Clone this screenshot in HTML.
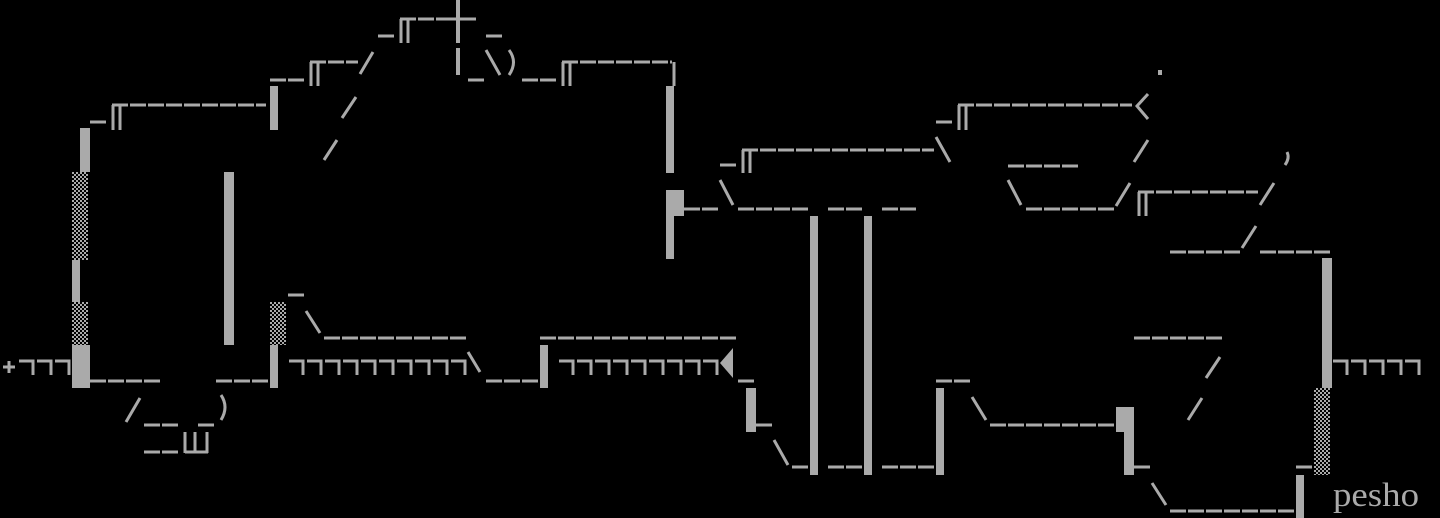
<!DOCTYPE html>
<html><head><meta charset="utf-8"><style>
html,body{margin:0;padding:0;background:#000;width:1440px;height:518px;overflow:hidden}
svg{display:block}
.t{font-family:"Liberation Serif",serif;font-size:34px;fill:#aaa}
</style></head><body>
<svg width="1440" height="518" viewBox="0 0 1440 518">
<defs>
<pattern id="dot" width="4" height="4" patternUnits="userSpaceOnUse">
<rect width="4" height="4" fill="#000"/><rect width="2" height="2" fill="#aaa"/><rect x="2" y="2" width="2" height="2" fill="#aaa"/>
</pattern>
</defs>
<g fill="#aaa">
<rect x="72" y="345" width="18" height="43"/>
<rect x="72" y="260" width="8" height="42"/>
<rect x="80" y="128" width="10" height="44"/>
<rect x="224" y="172" width="10" height="173"/>
<rect x="270" y="345" width="8" height="43"/>
<rect x="270" y="86" width="8" height="44"/>
<rect x="540" y="345" width="8" height="43"/>
<rect x="666" y="86" width="8" height="87"/>
<rect x="666" y="190" width="18" height="26"/>
<rect x="666" y="216" width="8" height="43"/>
<rect x="810" y="216" width="8" height="259"/>
<rect x="864" y="216" width="8" height="259"/>
<rect x="746" y="388" width="10" height="44"/>
<rect x="936" y="388" width="8" height="87"/>
<rect x="1116" y="407" width="18" height="25"/>
<rect x="1124" y="432" width="10" height="43"/>
<rect x="1296" y="475" width="8" height="43"/>
<rect x="1322" y="258" width="10" height="130"/>
<rect x="456" y="0" width="4" height="43"/>
<rect x="456" y="48" width="4" height="27"/>
<rect x="1158" y="70" width="4" height="5"/>
</g>
<g fill="url(#dot)">
<rect x="72" y="172" width="16" height="88"/>
<rect x="72" y="302" width="16" height="43"/>
<rect x="270" y="302" width="16" height="43"/>
<rect x="1314" y="388" width="16" height="87"/>
</g>
<g stroke="#aaa" stroke-width="3" fill="none" stroke-dasharray="16 2">
<path d="M90 381H162 M216 381H270 M324 338H466 M486 381H538 M540 338H736 M738 381H754 M144 425H180 M198 425H214 M144 452H178 M288 295H304"/>
<path d="M90 122H106 M270 80H306 M468 80H484 M522 80H558 M378 36H396 M486 36H502 M720 165H736 M684 209H720 M738 209H810 M828 209H864 M882 209H918"/>
<path d="M756 425H772 M792 467H810 M828 467H864 M882 467H936 M936 381H972 M990 425H1116 M1134 467H1150 M1134 338H1224 M1170 511H1296 M1296 467H1312"/>
<path d="M936 122H952 M1008 166H1080 M1026 209H1116 M1170 252H1242 M1260 252H1332"/>
<path d="M112 105H266 M310 62H358 M400 19H470 M562 62H672 M742 150H934 M958 105H1132 M1138 192H1258"/>
</g>
<g stroke="#aaa" stroke-width="3" fill="none">
<path d="M113 105V130 M120 105V130 M311 62V86 M318 62V86 M401 19V43 M408 19V43 M563 62V86 M570 62V86 M743 150V173 M750 150V173 M959 105V130 M966 105V130 M1139 192V216 M1146 192V216"/>
<path d="M674 62V86"/>
<path d="M440 19H476"/>
<path d="M185 432V453 M195 432V453 M207 432V453 M185 452H208"/>
<path d="M373 52L360 74 M356 97L342 118 M337 140L324 160 M486 50L500 75 M306 311L320 333 M468 352L480 372 M720 180L733 205 M936 137L950 162 M774 440L788 465 M972 397L986 420 M1152 483L1166 505 M1008 180L1021 205 M1148 140L1134 162 M1130 183L1116 206 M1274 183L1260 205 M1256 226L1242 248 M1220 357L1206 378 M1202 398L1188 420"/>
<path d="M1148 94L1137 106L1148 119"/>
<path d="M509 50Q518 62 509 75 M221 395Q229 407 221 420 M140 398L126 422"/>
<path d="M468 80H484"/>
<path d="M1287 152Q1290 158 1285 165"/>
<path d="M3 367H15 M9 361V373"/>
</g>
<polygon points="720,363 733,348 733,378" fill="#aaa"/>
<g stroke="#aaa" stroke-width="3" fill="none">
<path d="M19 361h14v14 M37 361h14v14 M55 361h14v14"/>
<path d="M289 361h14v14 M307 361h14v14 M325 361h14v14 M343 361h14v14 M361 361h14v14 M379 361h14v14 M397 361h14v14 M415 361h14v14 M433 361h14v14 M451 361h14v14"/>
<path d="M559 361h14v14 M577 361h14v14 M595 361h14v14 M613 361h14v14 M631 361h14v14 M649 361h14v14 M667 361h14v14 M685 361h14v14 M703 361h14v14"/>
<path d="M1333 361h14v14 M1351 361h14v14 M1369 361h14v14 M1387 361h14v14 M1405 361h14v14"/>
</g>
<text x="1333" y="506" class="t" textLength="86" lengthAdjust="spacingAndGlyphs">pesho</text>
</svg>
</body></html>
